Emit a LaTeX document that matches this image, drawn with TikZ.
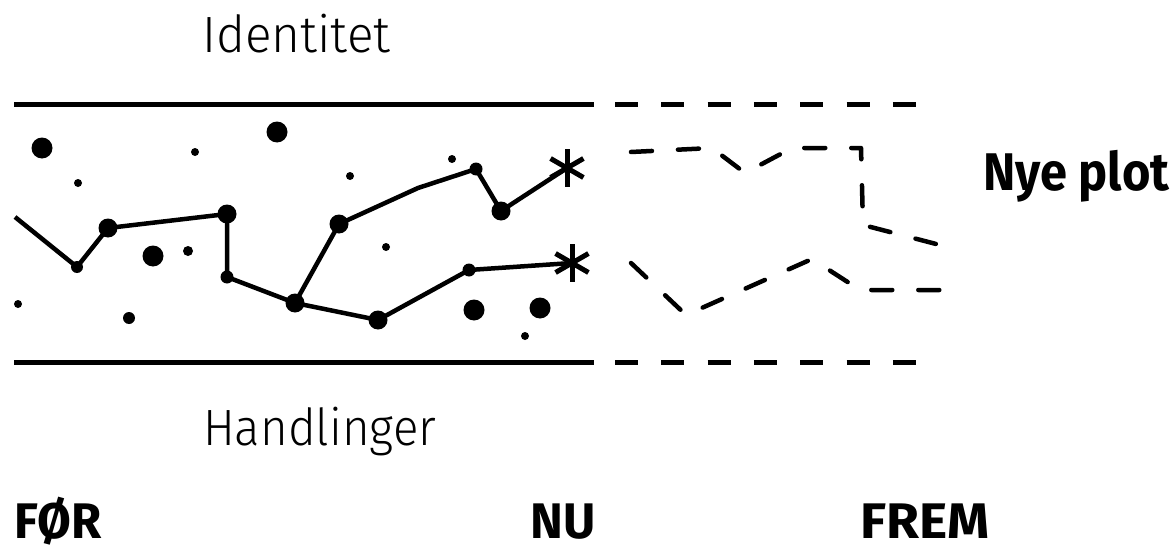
\documentclass[tikz,border=0pt]{standalone}
\usepackage{fontspec}
\usepackage{graphicx}
\setmainfont{Fira Sans}
\newfontfamily\lightfont{Fira Sans Light}
\begin{document}
\begin{tikzpicture}[x=1pt,y=-1pt,
  band/.style={line width=5pt},
  dashband/.style={line width=5pt,dash pattern=on 23pt off 23.3pt},
  plotline/.style={line width=4.5pt,line join=round},
  fut/.style={line width=4.5pt,line cap=round,line join=round,dash pattern=on 21pt off 26pt},
  bigdot/.style={circle,fill=black,inner sep=0pt,minimum size=21pt},
  smalldot/.style={circle,fill=black,inner sep=0pt,minimum size=12pt},
  tinydot/.style={circle,fill=black,inner sep=0pt,minimum size=8pt},
  lbl/.style={inner sep=0pt,anchor=base west},
  lightlbl/.style={lbl,font=\lightfont\fontsize{51}{51}\selectfont},
  boldlbl/.style={lbl,text depth=0pt,font=\bfseries\fontsize{50}{50}\selectfont},
  astline/.style={line width=5pt}
]
\useasboundingbox (0,0) rectangle (1173,551);
% texts
\node[lightlbl] (id) at (202,53) {\scalebox{0.97}[1]{Identitet}};
\node[lightlbl] (hd) at (203,445) {\scalebox{0.93}[1]{Handlinger}};
\node[lbl,font=\bfseries\fontsize{53}{53}\selectfont] (np) at (983,190) {\scalebox{0.92}[1]{Nye plot}};
\node[boldlbl] (for) at (14,538) {\scalebox{0.98}[1]{FØR}};
\node[boldlbl] (nu) at (530,538) {\scalebox{0.99}[1]{NU}};
\node[boldlbl] (frem) at (860,538) {\scalebox{1.07}[1]{FREM}};
% band lines
\coordinate (t0) at (14,104); \coordinate (t1) at (594,104);
\coordinate (t2) at (615,104); \coordinate (t3) at (918,104);
\coordinate (b0) at (14,362); \coordinate (b1) at (594,362);
\coordinate (b2) at (615,362); \coordinate (b3) at (918,362);
\draw[band] (t0) -- (t1);
\draw[band] (b0) -- (b1);
\draw[dashband] (t2) -- (t3);
\draw[dashband] (b2) -- (b3);
% loose stars
\node[bigdot] (s1) at (42,148) {};
\node[bigdot] (s2) at (277,132) {};
\node[tinydot] (s3) at (195,152) {};
\node[tinydot] (s4) at (78,183) {};
\node[tinydot] (s5) at (350,176) {};
\node[bigdot] (s6) at (153,256) {};
\node[tinydot,minimum size=10pt] (s7) at (188,251) {};
\node[tinydot] (s8) at (386,247) {};
\node[tinydot] (s9) at (18,304) {};
\node[smalldot] (s10) at (129,318) {};
\node[tinydot] (s11) at (452,159) {};
\node[bigdot] (s12) at (474,310) {};
\node[bigdot] (s13) at (540,308) {};
\node[tinydot] (s14) at (525,336) {};
% constellation nodes
\coordinate (p0) at (15,217);
\node[smalldot] (p1) at (77,267) {};
\node[bigdot,minimum size=19pt] (p2) at (108,228) {};
\node[bigdot,minimum size=19pt] (p3) at (227,214) {};
\node[smalldot,minimum size=13pt] (p4) at (227,277) {};
\node[bigdot,minimum size=19pt] (p5) at (295,303) {};
\node[bigdot,minimum size=19pt] (p6) at (378,320) {};
\node[smalldot,minimum size=13pt] (p7) at (469,270) {};
\coordinate (a1) at (572,263);
\node[bigdot,minimum size=19pt] (q1) at (339,224) {};
\coordinate (q2) at (418,188);
\node[smalldot,minimum size=13pt] (q3) at (476,169) {};
\node[bigdot,minimum size=19pt] (q4) at (501,211) {};
\coordinate (a2) at (567,168);
\draw[plotline] (p0) -- (p1.center) -- (p2.center) -- (p3.center) -- (p4.center) -- (p5.center) -- (p6.center) -- (p7.center) -- (a1);
\draw[plotline] (p5.center) -- (q1.center) -- (q2) -- (q3.center) -- (q4.center) -- (a2);
% asterisks
\foreach \c in {a1,a2}{
  \draw[astline] (\c) ++(0,-19) -- ++(0,38);
  \draw[astline] (\c) ++(-30:19) -- ++(150:38);
  \draw[astline] (\c) ++(30:19) -- ++(210:38);
}
% future dashed plots
\coordinate (u0) at (631,152); \coordinate (u1) at (712,148); \coordinate (u2) at (745,173);
\coordinate (u3) at (792,148); \coordinate (u4) at (861,148); \coordinate (u5) at (863,225);
\coordinate (u6) at (940,245);
\draw[fut] (u0) -- (u1) -- (u2) -- (u3) -- (u4) -- (u5) -- (u6);
\coordinate (l0) at (631,263); \coordinate (l1) at (686,315); \coordinate (l2) at (812,259);
\coordinate (l3) at (860,290); \coordinate (l4) at (940,290);
\draw[fut] (l0) -- (l1) -- (l2) -- (l3) -- (l4);
\end{tikzpicture}
\end{document}
